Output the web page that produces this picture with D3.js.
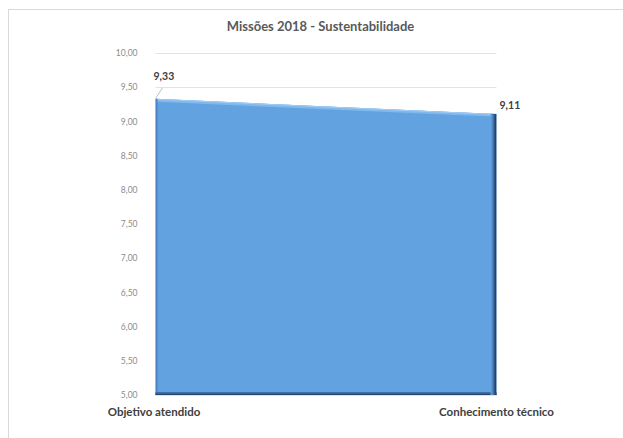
<!DOCTYPE html>
<html><head><meta charset="utf-8">
<script src="https://cdn.jsdelivr.net/npm/d3@7"></script>
<style>html,body{margin:0;padding:0;background:#fff;} svg{display:block;}</style>
</head><body>
<svg id="c" width="623" height="438"></svg>
<script>
const title = "Missões 2018 - Sustentabilidade";
const categories = ["Objetivo atendido", "Conhecimento técnico"];
const values = [9.33, 9.11];
const yTicks = [5, 5.5, 6, 6.5, 7, 7.5, 8, 8.5, 9, 9.5, 10];

const svg = d3.select("#c");
const font = "Lato, 'Open Sans', sans-serif";
const fmt = v => d3.format(".2f")(v).replace(".", ",");

// chart border
svg.append("rect").attr("x", 8.5).attr("y", 9.5).attr("width", 700).attr("height", 500)
  .attr("fill", "#fff").attr("stroke", "#d9d9d9").attr("stroke-width", 1);

const x = d3.scalePoint().domain(categories).range([155.5, 496.5]);
const y = d3.scaleLinear().domain([5, 10]).range([395, 53]);

// title
svg.append("text").attr("x", 320.5).attr("y", 31).attr("text-anchor", "middle")
  .attr("font-family", font).attr("font-weight", "bold").attr("font-size", 13)
  .attr("fill", "#595959").text(title);

// gridlines
svg.append("g").selectAll("line").data(yTicks).join("line")
  .attr("x1", x.range()[0]).attr("x2", x.range()[1])
  .attr("y1", d => Math.round(y(d)) + 0.5).attr("y2", d => Math.round(y(d)) + 0.5)
  .attr("stroke", "#e3e3e3").attr("stroke-width", 1);

// y axis labels
const yAxis = d3.axisLeft(y).tickValues(yTicks).tickFormat(fmt).tickSize(0).tickPadding(0);
const ga = svg.append("g").attr("transform", `translate(${x.range()[0] - 18},0)`).call(yAxis);
ga.select(".domain").remove();
ga.selectAll("text").attr("font-family", font).attr("font-size", 8.5).attr("fill", "#8c8c8c");

const data = categories.map((c, i) => ({c, v: values[i]}));
const area = d3.area().x(d => x(d.c)).y0(y(5)).y1(d => y(d.v));
const topLine = d3.line().x(d => x(d.c)).y(d => y(d.v));

const defs = svg.append("defs");
defs.append("clipPath").attr("id", "clipA").append("path").attr("d", area(data));
const gr = defs.append("linearGradient").attr("id", "gR").attr("x1", 0).attr("x2", 1).attr("y1", 0).attr("y2", 0);
gr.append("stop").attr("offset", 0).attr("stop-color", "#62a2e0");
gr.append("stop").attr("offset", 0.35).attr("stop-color", "#4f86c2");
gr.append("stop").attr("offset", 0.7).attr("stop-color", "#2c5180");
gr.append("stop").attr("offset", 1).attr("stop-color", "#1b3152");

svg.append("path").attr("d", area(data)).attr("fill", "#62a2e0");
const gc = svg.append("g").attr("clip-path", "url(#clipA)");
// top highlight
gc.append("path").attr("d", topLine(data)).attr("fill", "none")
  .attr("stroke", "#7fb8ec").attr("stroke-width", 6);
gc.append("path").attr("d", topLine(data)).attr("fill", "none")
  .attr("stroke", "#a3cdf5").attr("stroke-width", 2);
// left edge
gc.append("rect").attr("x", x.range()[0]).attr("y", 0).attr("width", 2).attr("height", 438)
  .attr("fill", "#4a82c2");
// bottom edge
gc.append("rect").attr("x", 0).attr("y", y(5) - 3).attr("width", 623).attr("height", 3)
  .attr("fill", "#3d6ea6");
gc.append("rect").attr("x", 0).attr("y", y(5) - 1.2).attr("width", 623).attr("height", 1.2)
  .attr("fill", "#24436b");
// right edge
gc.append("rect").attr("x", x.range()[1] - 6).attr("y", 0).attr("width", 6).attr("height", 438)
  .attr("fill", "url(#gR)");

// leader line for first label
svg.append("line").attr("x1", x(categories[0]) + 0.5).attr("y1", y(values[0]) - 1)
  .attr("x2", x(categories[0]) + 7).attr("y2", y(values[0]) - 11)
  .attr("stroke", "#bfbfbf").attr("stroke-width", 1);

// data labels
svg.append("text").attr("x", x(categories[0]) - 2).attr("y", y(values[0]) - 19)
  .attr("font-family", font).attr("font-weight", "bold").attr("font-size", 10.5)
  .attr("fill", "#404040").text(fmt(values[0]));
svg.append("text").attr("x", x(categories[1]) + 3).attr("y", y(values[1]) - 5)
  .attr("font-family", font).attr("font-weight", "bold").attr("font-size", 10.5)
  .attr("fill", "#404040").text(fmt(values[1]));

// category labels
svg.append("g").selectAll("text").data(categories).join("text")
  .attr("x", (d, i) => x(d) - (i === 0 ? 1.5 : 0)).attr("y", 416).attr("text-anchor", "middle")
  .attr("font-family", font).attr("font-weight", "bold").attr("font-size", 11.5)
  .attr("fill", "#404040").text(d => d);
</script>
</body></html>
